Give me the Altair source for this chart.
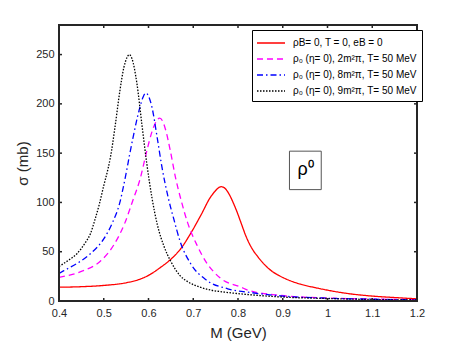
import altair as alt
import pandas as pd

# ---- data ----
red_m = [0.40, 0.45, 0.50, 0.55, 0.58, 0.60, 0.626, 0.649, 0.672, 0.694, 0.717, 0.739, 0.748,
         0.756, 0.762, 0.768, 0.776, 0.784, 0.79, 0.796, 0.807, 0.818, 0.825, 0.833, 0.845,
         0.856, 0.867, 0.878, 0.893, 0.909, 0.94, 0.973, 1.00, 1.05, 1.10, 1.15, 1.20]
red_s = [14, 14.5, 15.8, 18.5, 22, 26, 33.8, 42, 53, 68.4, 87, 105.7, 111,
         114.7, 116, 115.3, 111.5, 105, 99, 92.5, 79, 65.5, 58.5, 52, 44.5,
         38.5, 33.5, 29.5, 25.5, 22, 17, 13.5, 11, 7.3, 5, 3.5, 2.2]

mag_m = [0.40, 0.43, 0.456, 0.494, 0.524, 0.547, 0.565, 0.582, 0.595, 0.608, 0.617, 0.625,
         0.632, 0.638, 0.649, 0.660, 0.673, 0.687, 0.709, 0.731, 0.747, 0.761, 0.807, 0.822,
         0.897, 1.00, 1.10, 1.20]
mag_s = [24, 27, 31, 41, 58, 79, 102, 125, 150, 172, 182, 185.5,
         182, 174, 152, 126, 102, 80, 56, 38, 29, 23, 14, 11,
         5.6, 3, 2, 1.3]

blu_m = [0.40, 0.42, 0.44, 0.47, 0.50, 0.52, 0.536, 0.543, 0.551, 0.558, 0.566, 0.575, 0.581,
         0.588, 0.594, 0.600, 0.608, 0.619, 0.630, 0.645, 0.656, 0.671, 0.694, 0.73, 0.777,
         0.83, 0.90, 1.00, 1.10, 1.20]
blu_s = [28, 33, 38, 48, 63, 80, 100, 114, 132, 149, 167, 186, 197,
         207, 211, 208, 196, 167, 136, 103, 84, 60, 38, 21, 12.4,
         8.5, 5, 2.8, 1.8, 1.2]

blk_m = [0.40, 0.42, 0.44, 0.46, 0.47, 0.48, 0.49, 0.50, 0.51, 0.515, 0.525, 0.536, 0.545,
         0.552, 0.557, 0.563, 0.574, 0.585, 0.596, 0.608, 0.62, 0.635, 0.65, 0.67, 0.69,
         0.715, 0.74, 0.77, 0.80, 0.85, 0.90, 1.00, 1.10, 1.20]
blk_s = [35, 41, 48, 60, 68, 82, 98, 117, 135, 146, 176, 213, 237,
         247, 250, 246, 221, 180, 140, 104, 77, 55, 40, 26, 19,
         14, 11, 9, 7.5, 5.5, 4, 2.5, 1.5, 1]

series_names = [
    "ρB= 0, T = 0, eB = 0",
    "ρ₀ (η= 0), 2m²π, T= 50 MeV",
    "ρ₀ (η= 0), 8m²π, T= 50 MeV",
    "ρ₀ (η= 0), 9m²π, T= 50 MeV",
]
series_colors = ["#FF0000", "#FF00FF", "#0000FF", "#000000"]
series_dash = [[1, 0], [6, 4], [6, 3, 1.5, 3], [1.5, 1.5]]

x_ticks = [0.4, 0.5, 0.6, 0.7, 0.8, 0.9, 1.0, 1.1, 1.2]
y_ticks = [0, 50, 100, 150, 200, 250]

annot = {"label": "ρ⁰", "x": 0.951, "y": 132.5, "x1": 0.915, "x2": 0.986, "y1": 113, "y2": 152}

# ---- build table ----
rows = []
for name, ms, ss in zip(series_names, [red_m, mag_m, blu_m, blk_m], [red_s, mag_s, blu_s, blk_s]):
    for m, s in zip(ms, ss):
        rows.append({"M": m, "sigma": s, "series": name})
df = pd.DataFrame(rows)

W, H = 358, 276
FONT = "Liberation Sans"
AX = "#262626"

legend = alt.Legend(
    orient="none", legendX=193, legendY=5, title=None,
    symbolType="M-2,0H2", symbolSize=196, symbolStrokeWidth=1.3, symbolOffset=6,
    symbolFillColor="transparent",
    labelFont=FONT, labelFontSize=10, labelColor="black", labelOffset=14,
    strokeColor="black", fillColor="white", padding=5, rowPadding=3,
    cornerRadius=0, labelLimit=200,
)

xscale = alt.Scale(domain=[0.4, 1.2], nice=False, zero=False)
yscale = alt.Scale(domain=[0, 280], nice=False)

lines = alt.Chart(df).mark_line(strokeWidth=1.3, clip=True, interpolate="monotone").encode(
    x=alt.X("M:Q", scale=xscale,
            axis=alt.Axis(values=x_ticks, format="~g", title="M (GeV)", grid=False, ticks=False,
                          domain=False, labelFlush=False, labelFont=FONT, labelFontSize=11,
                          labelColor=AX, labelPadding=6, titleFont=FONT, titleFontSize=15,
                          titleFontWeight="normal", titleColor=AX, titlePadding=7)),
    y=alt.Y("sigma:Q", scale=yscale,
            axis=alt.Axis(values=y_ticks, title="σ (mb)", grid=False, ticks=False, domain=False,
                          labelFlush=False, labelFont=FONT, labelFontSize=11, labelColor=AX,
                          labelPadding=5, titleFont=FONT, titleFontSize=15,
                          titleFontWeight="normal", titleColor=AX, titlePadding=5)),
    color=alt.Color("series:N", scale=alt.Scale(domain=series_names, range=series_colors), legend=legend),
    strokeDash=alt.StrokeDash("series:N", scale=alt.Scale(domain=series_names, range=series_dash), legend=legend),
    order=alt.Order("series:N"),
)

xt = pd.DataFrame({"v": x_ticks})
yt = pd.DataFrame({"v": y_ticks})
tick_style = dict(color=AX, strokeWidth=1.5)
bt = alt.Chart(xt).mark_rule(**tick_style).encode(x=alt.X("v:Q", scale=xscale), y=alt.value(H), y2=alt.value(H - 3))
tt = alt.Chart(xt).mark_rule(**tick_style).encode(x=alt.X("v:Q", scale=xscale), y=alt.value(0), y2=alt.value(3))
lt = alt.Chart(yt).mark_rule(**tick_style).encode(y=alt.Y("v:Q", scale=yscale), x=alt.value(0), x2=alt.value(3))
rt = alt.Chart(yt).mark_rule(**tick_style).encode(y=alt.Y("v:Q", scale=yscale), x=alt.value(W), x2=alt.value(W - 3))

frame = alt.Chart(pd.DataFrame({"k": [0]})).mark_rect(filled=False, stroke=AX, strokeWidth=2).encode(
    x=alt.value(0), x2=alt.value(W), y=alt.value(0), y2=alt.value(H))

adf = pd.DataFrame([annot])
box = alt.Chart(adf).mark_rect(fill="white", stroke="#555555", strokeWidth=1).encode(
    x=alt.X("x1:Q", scale=xscale), x2="x2:Q", y=alt.Y("y1:Q", scale=yscale), y2="y2:Q")
lab = alt.Chart(adf).mark_text(font=FONT, fontSize=18, color="black").encode(
    x=alt.X("x:Q", scale=xscale), y=alt.Y("y:Q", scale=yscale), text="label:N")

chart = alt.layer(lines, box, lab, bt, tt, lt, rt, frame).properties(
    width=W, height=H,
    background="white",
    autosize=alt.AutoSizeParams(type="none"),
    padding={"left": 51, "top": 17, "right": 33, "bottom": 42},
).configure_view(stroke="transparent")

chart.save("out.html", embed_options={"renderer": "svg", "actions": False})
